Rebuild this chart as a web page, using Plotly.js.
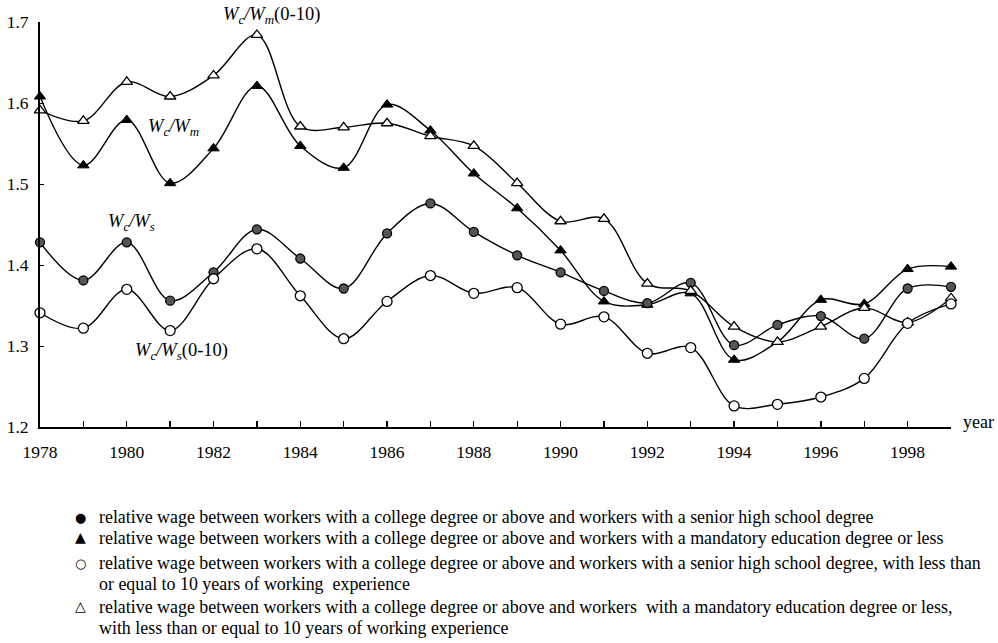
<!DOCTYPE html>
<html>
<head>
<meta charset="utf-8">
<script src="https://cdn.plot.ly/plotly-3.0.1.min.js"></script>
<style>html,body{margin:0;padding:0;background:#fff;}#chart{width:998px;height:643px;}</style>
</head>
<body>
<div id="chart"></div>
<script>
const years = [1978,1979,1980,1981,1982,1983,1984,1985,1986,1987,1988,1989,1990,1991,1992,1993,1994,1995,1996,1997,1998,1999];
const wcWs = [1.428,1.381,1.428,1.356,1.391,1.444,1.408,1.371,1.439,1.476,1.441,1.412,1.391,1.368,1.353,1.378,1.301,1.326,1.337,1.309,1.371,1.373];
const wcWm = [1.608,1.523,1.579,1.501,1.544,1.621,1.547,1.520,1.598,1.566,1.513,1.470,1.418,1.355,1.351,1.365,1.283,1.305,1.357,1.352,1.395,1.398];
const wcWs010 = [1.341,1.322,1.370,1.319,1.383,1.420,1.362,1.309,1.355,1.387,1.365,1.372,1.327,1.336,1.291,1.298,1.226,1.228,1.237,1.260,1.328,1.352];
const wcWm010 = [1.591,1.578,1.626,1.608,1.634,1.684,1.571,1.570,1.575,1.559,1.547,1.501,1.454,1.457,1.377,1.368,1.324,1.305,1.324,1.347,1.329,1.359];
const legendLines = [
  ["relative wage between workers with a college degree or above and workers with a senior high school degree"],
  ["relative wage between workers with a college degree or above and workers with a mandatory education degree or less"],
  ["relative wage between workers with a college degree or above and workers with a senior high school degree, with less than",
   "or equal to 10 years of working  experience"],
  ["relative wage between workers with a college degree or above and workers  with a mandatory education degree or less,",
   "with less than or equal to 10 years of working experience"]
];
const legendSymbols = ["\u25CF", "\u25B2", "\u25CB", "\u25B3"];
const curveLabels = ["<i>W</i><sub><i>c</i></sub><i>/W</i><sub><i>s</i></sub>",
                     "<i>W</i><sub><i>c</i></sub><i>/W</i><sub><i>m</i></sub>",
                     "<i>W</i><sub><i>c</i></sub><i>/W</i><sub><i>s</i></sub>(0-10)",
                     "<i>W</i><sub><i>c</i></sub><i>/W</i><sub><i>m</i></sub>(0-10)"];

const FONT = "'Times New Roman', 'Liberation Serif', 'DejaVu Serif', serif";
const lineStyle = {color:'#000', width:1.4, shape:'spline', smoothing:1};
const markerStyles = [
  {symbol:'circle', size:9, color:'#555', line:{color:'#000', width:1.3}},
  {symbol:'triangle-up', size:10, color:'#000', line:{color:'#000', width:1}},
  {symbol:'circle', size:10, color:'#fff', line:{color:'#000', width:1.3}},
  {symbol:'triangle-up', size:10, color:'#fff', line:{color:'#000', width:1.3}}
];
const series = [wcWs, wcWm, wcWs010, wcWm010];
const traces = [];
[1,0,3,2].forEach(i => {
  traces.push({x:years, y:series[i], type:'scatter', mode:'lines+markers', line:lineStyle,
    marker:markerStyles[i], showlegend:false, cliponaxis:false, hoverinfo:'x+y'});
});

function px2paperX(px){return (px-40)/911;}
function px2paperY(py){return (427-py)/405;}
const labelPos = [[131,222],[173,127],[181,351],[271,16]];
const annotations = labelPos.map((p,i)=>({xref:'paper', yref:'paper', x:px2paperX(p[0]), y:px2paperY(p[1]),
  text:curveLabels[i], showarrow:false, font:{family:FONT, size:18.5, color:'#000'}, xanchor:'center', yanchor:'middle'}));
annotations.push({xref:'paper', yref:'paper', x:px2paperX(961), y:px2paperY(422), text:'year', showarrow:false,
  xanchor:'left', yanchor:'middle', font:{family:FONT, size:18, color:'#000'}});

// legend block (key symbols + wrapped descriptions)
const legendRowY = [[517],[538],[563,584],[607,628]];
legendLines.forEach((lines,i) => {
  annotations.push({xref:'paper', yref:'paper', x:px2paperX(80), y:px2paperY(legendRowY[i][0]+(i===1||i===3?-1:0)),
    text:legendSymbols[i], showarrow:false, xanchor:'center', yanchor:'middle',
    font:{family:'DejaVu Sans', size:(i%2===0?13:14), color:'#000'}});
  lines.forEach((txt,j) => {
    annotations.push({xref:'paper', yref:'paper', x:px2paperX(97), y:px2paperY(legendRowY[i][j]),
      text:txt, showarrow:false, xanchor:'left', yanchor:'middle', align:'left',
      font:{family:FONT, size:17.9, color:'#000'}});
  });
});

const layout = {
  width:998, height:643,
  margin:{l:40, r:47, t:22, b:216, autoexpand:false},
  paper_bgcolor:'#fff', plot_bgcolor:'#fff',
  font:{family:FONT, size:16, color:'#000'},
  xaxis:{range:[1978,1999], tick0:1978, dtick:2, ticks:'inside', ticklen:6, tickwidth:1.3, tickcolor:'#000',
    minor:{dtick:1, ticks:'inside', ticklen:6, tickwidth:1.3, tickcolor:'#000'},
    showline:true, linecolor:'#000', linewidth:2, showgrid:false, zeroline:false, automargin:false,
    tickfont:{family:FONT, size:17.5, color:'#000'}, ticklabelstandoff:8},
  yaxis:{range:[1.2,1.7], dtick:0.1, tickformat:'.1f', ticks:'inside', ticklen:4, tickcolor:'#000',
    showline:true, linecolor:'#000', linewidth:2, showgrid:false, zeroline:false, automargin:false,
    tickfont:{family:FONT, size:17.5, color:'#000'}, ticklabelstandoff:6},
  showlegend:false,
  annotations:annotations
};
Plotly.newPlot('chart', traces, layout, {displayModeBar:false, staticPlot:true});
</script>
</body>
</html>
